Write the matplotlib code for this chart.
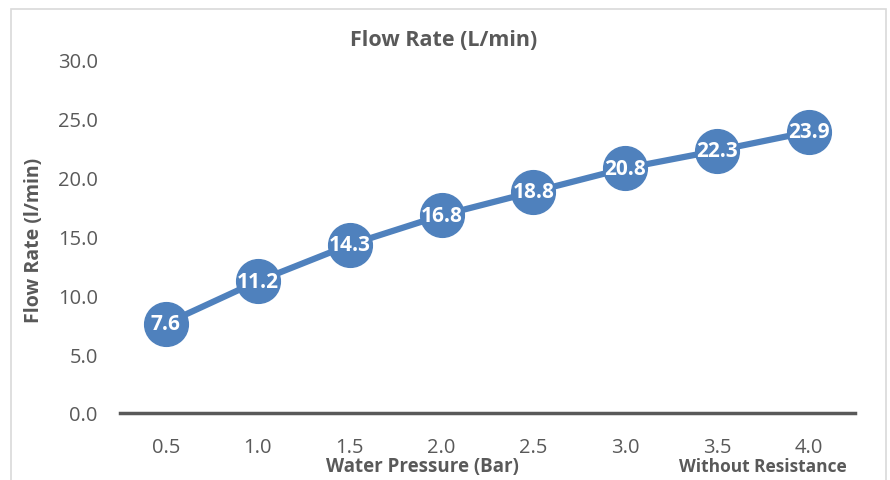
import numpy as np
import matplotlib.pyplot as plt
from matplotlib.patches import Rectangle

# data
pressure = ["0.5", "1.0", "1.5", "2.0", "2.5", "3.0", "3.5", "4.0"]
flow = [7.6, 11.2, 14.3, 16.8, 18.8, 20.8, 22.3, 23.9]
yticks = [0, 5, 10, 15, 20, 25, 30]

plt.rcParams['font.family'] = ['Open Sans', 'DejaVu Sans']
blue = '#4F81BD'
grey_txt = '#595959'

fig = plt.figure(figsize=(8.9, 4.81), dpi=100)
ax = fig.add_axes([0.1348, 0.1393, 0.8259, 0.7339])

x = np.arange(len(flow))
ax.plot(x, flow, color=blue, lw=4.5, marker='o', markersize=31.5,
        markerfacecolor=blue, markeredgecolor=blue, zorder=3)
for xi, v in zip(x, flow):
    ax.text(xi, v, f"{v:.1f}", color='white', fontsize=15, fontweight='bold',
            ha='center', va='center', zorder=4)

ax.set_xlim(-0.5, len(flow) - 0.5)
ax.set_ylim(0, 30)
ax.set_xticks(x)
ax.set_xticklabels(pressure)
ax.set_yticks(yticks)
ax.set_yticklabels([f"{t:.1f}" for t in yticks])
ax.tick_params(length=0, labelsize=14.5, labelcolor=grey_txt)
ax.tick_params(axis='x', pad=17)
ax.tick_params(axis='y', pad=16)

for s in ['top', 'right', 'left']:
    ax.spines[s].set_visible(False)
ax.spines['bottom'].set_color('#595959')
ax.spines['bottom'].set_linewidth(2.5)

fig.text(0.498, 0.915, "Flow Rate (L/min)", fontsize=15.5, fontweight='bold',
         color=grey_txt, ha='center', va='center')
fig.text(0.038, 0.5, "Flow Rate (l/min)", rotation=90, fontsize=14, fontweight='bold',
         color=grey_txt, ha='center', va='center')
fig.text(0.475, 0.029, "Water Pressure (Bar)", fontsize=13.5, fontweight='bold',
         color=grey_txt, ha='center', va='center')
fig.text(0.857, 0.029, "Without Resistance", fontsize=12.5, fontweight='bold',
         color=grey_txt, ha='center', va='center')

# chart border
fig.patches.append(Rectangle((11 / 890, -0.05), 875 / 890, 1.05 - 10 / 481,
                             transform=fig.transFigure, fill=False,
                             edgecolor='#D9D9D9', lw=1.2))

fig.savefig("out.png", dpi=100)
